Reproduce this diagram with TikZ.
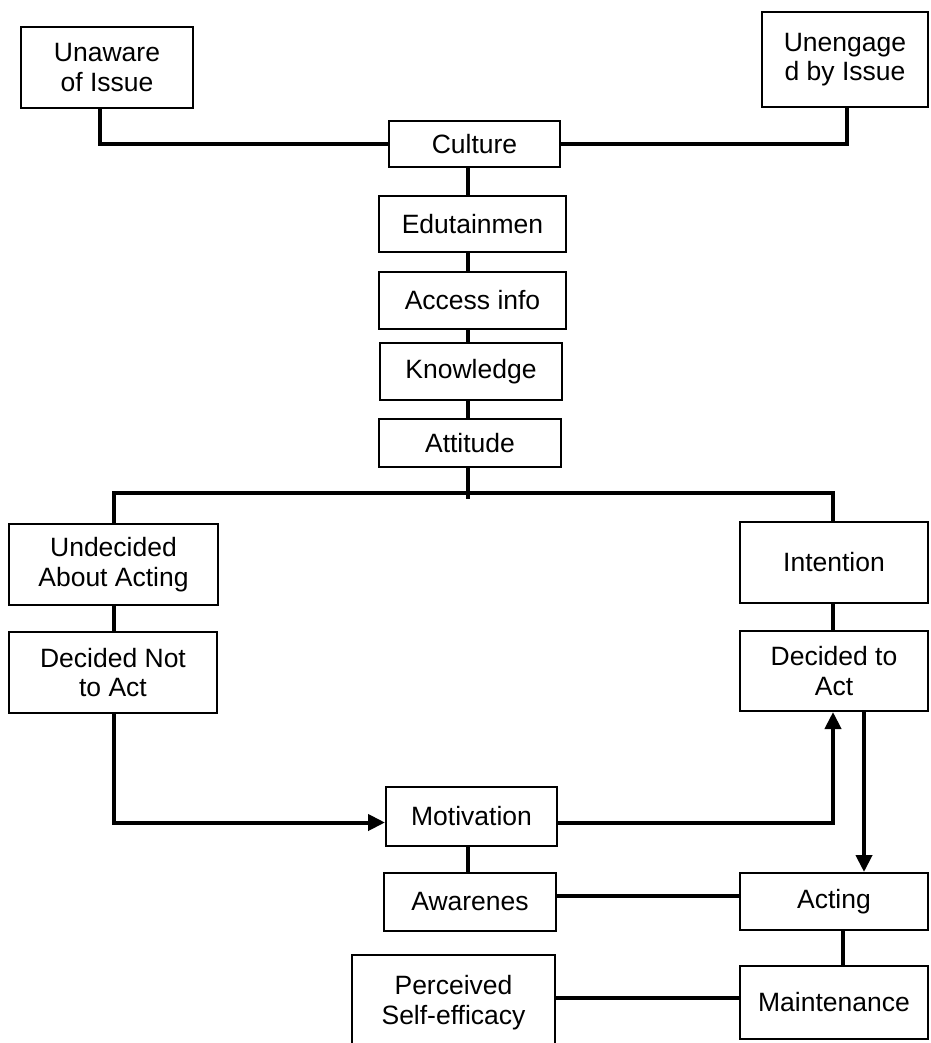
\documentclass[tikz,border=0pt]{standalone}
\usepackage{fontspec}
\setmainfont{Liberation Sans}
\usetikzlibrary{arrows.meta}
\tikzset{
  box/.style={draw, line width=2pt, inner sep=0pt, align=center, font=\fontsize{26.5}{29.5}\selectfont},
  conn/.style={line width=4pt},
  arr/.style={conn, -{Triangle[length=17pt,width=16pt]}}
}
\newcommand\mkbox[6]{\node[box, minimum width={#4pt-#2pt}, minimum height={#5pt-#3pt}] (#1) at ({(#2+#4)/2},{(#3+#5)/2}) {#6};}
\begin{document}
\begin{tikzpicture}[x=1pt,y=-1pt]
\clip (0,0) rectangle (930,1043);
\fill[white] (0,0) rectangle (930,1043);
\mkbox{unaware}{21}{27}{193}{108}{Unaware\\of Issue}
\mkbox{unengaged}{762}{12}{928}{107}{Unengage\\d by Issue}
\mkbox{culture}{389}{121}{560}{167}{Culture}
\mkbox{edu}{379}{196}{566}{252}{Edutainmen}
\mkbox{access}{379}{272}{566}{329}{Access info}
\mkbox{knowledge}{380}{343}{562}{400}{Knowledge}
\mkbox{attitude}{379}{419}{561}{467}{Attitude}
\mkbox{undecided}{9}{524}{218}{605}{Undecided\\About Acting}
\mkbox{decnot}{9}{632}{217}{713}{Decided Not\\to Act}
\mkbox{intention}{740}{522}{928}{603}{Intention}
\mkbox{decact}{740}{631}{928}{711}{Decided to\\Act}
\mkbox{motivation}{386}{787}{557}{846}{Motivation}
\mkbox{awarenes}{384}{873}{556}{931}{Awarenes}
\mkbox{acting}{740}{873}{928}{930}{Acting}
\mkbox{perceived}{352}{955}{555}{1050}{Perceived\\Self-efficacy}
\mkbox{maint}{740}{966}{928}{1039}{Maintenance}
\coordinate (spine) at (468,0);
\coordinate (hl) at (114,493);
\coordinate (hr) at (833,493);
\coordinate (dr) at (864,0);
\coordinate (hm) at (0,896);
\draw[conn] ([xshift=-7pt]unaware.south) |- (culture.west);
\draw[conn] (culture.east) -| ([xshift=2pt]unengaged.south);
\draw[conn] (culture.south -| spine) -- (edu.north -| spine);
\draw[conn] (edu.south -| spine) -- (access.north -| spine);
\draw[conn] (access.south -| spine) -- (knowledge.north -| spine);
\draw[conn] (knowledge.south -| spine) -- (attitude.north -| spine);
\draw[conn] (attitude.south -| spine) -- ++(0,31);
\draw[conn] (undecided.north -| hl) -- (hl) -- (hr) -- (intention.north -| hr);
\draw[conn] (undecided.south -| hl) -- (decnot.north -| hl);
\draw[conn] (intention.south -| hr) -- (decact.north -| hr);
\draw[arr] (decnot.south -| hl) |- ([yshift=-6pt]motivation.west);
\draw[arr] ([yshift=-6pt]motivation.east) -| (decact.south -| hr);
\draw[arr] (decact.south -| dr) -- (acting.north -| dr);
\draw[conn] (motivation.south -| spine) -- (awarenes.north -| spine);
\draw[conn] (awarenes.east |- hm) -- (acting.west |- hm);
\draw[conn] ([xshift=9pt]acting.south) -- ([xshift=9pt]maint.north);
\draw[conn] ([yshift=5pt]perceived.east) -- ([yshift=5pt]maint.west);
\end{tikzpicture}
\end{document}
